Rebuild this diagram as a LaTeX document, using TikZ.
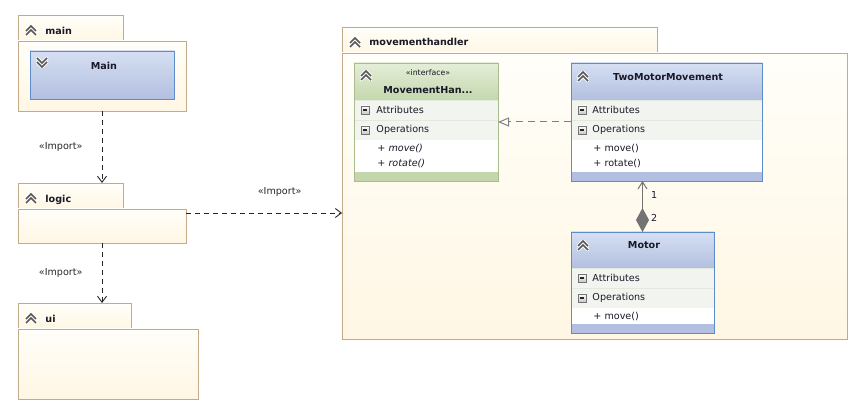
\documentclass[tikz,border=0pt]{standalone}
\usepackage{fontspec}
\setmainfont{DejaVu Sans}
\usetikzlibrary{arrows.meta}

\newcommand\umlfont{\fontsize{9.6}{11}\selectfont}

\definecolor{pkgline}{RGB}{196,170,136}
\definecolor{pkgtop}{RGB}{255,254,249}
\definecolor{pkgbot}{RGB}{255,247,228}
\definecolor{clsline}{RGB}{92,140,204}
\definecolor{clstop}{RGB}{214,223,242}
\definecolor{clsbot}{RGB}{178,191,224}
\definecolor{ifcline}{RGB}{168,188,142}
\definecolor{ifctop}{RGB}{228,238,216}
\definecolor{ifcbot}{RGB}{196,215,172}
\definecolor{rowfill}{RGB}{242,245,239}
\definecolor{rowline}{RGB}{226,234,224}
\definecolor{iconfg}{RGB}{88,88,88}
\definecolor{txt}{RGB}{25,25,40}
\definecolor{relgray}{RGB}{128,128,128}

\tikzset{
  topleft/.style={anchor=north west, inner sep=0pt, outer sep=0pt},
  pkg/.style={topleft, draw=pkgline, top color=pkgtop, bottom color=pkgbot},
  pkgname/.style={anchor=base west, inner sep=0pt, font=\umlfont\bfseries},
  chead/.style={topleft, top color=clstop, bottom color=clsbot, minimum height=37},
  ihead/.style={topleft, top color=ifctop, bottom color=ifcbot, minimum height=37},
  crow/.style={topleft, fill=rowfill, draw=rowline, line width=0.8pt, minimum height=20},
  citems/.style={topleft, fill=white, minimum height=#1},
  cfoot/.style={topleft, fill=clsbot, minimum height=9},
  ifoot/.style={topleft, fill=ifcbot, minimum height=9},
  clsframe/.style={topleft, draw=#1, line width=0.95pt},
  ctitle/.style={font=\umlfont\bfseries, inner sep=0pt},
  ctext/.style={anchor=west, inner sep=0pt},
  citalic/.style={ctext, font=\umlfont\itshape},
  stereo/.style={font=\fontsize{7.8}{9}\selectfont, inner sep=0pt},
  import/.style={black!85, line width=0.9pt, dash pattern=on 5pt off 4pt,
    -{Straight Barb[length=6pt, width=9pt]}},
  implabel/.style={text=black!85, inner sep=1pt},
  pics/upchev/.style={code={
    \foreach \d in {0,4}
      \draw[white, line width=3.2pt, line cap=round, line join=round] (-5,\d+1) -- (0,\d-4) -- (5,\d+1);
    \foreach \d in {0,4}
      \draw[iconfg, line width=1.6pt, line join=miter] (-5,\d+1) -- (0,\d-4) -- (5,\d+1);
  }},
  pics/downchev/.style={code={
    \foreach \d in {0,-4}
      \draw[white, line width=3.2pt, line cap=round, line join=round] (-5,\d-1) -- (0,\d+4) -- (5,\d-1);
    \foreach \d in {0,-4}
      \draw[iconfg, line width=1.6pt, line join=miter] (-5,\d-1) -- (0,\d+4) -- (5,\d-1);
  }},
  pics/minusbox/.style={code={
    \draw[black!55, top color=white, bottom color=black!22, line width=0.8pt] (-4,-4) rectangle (4,4);
    \draw[black!85, line width=1.2pt] (-2.2,0) -- (2.2,0);
  }}
}

\begin{document}
\begin{tikzpicture}[x=1pt, y=-1pt, font=\umlfont, text=txt, line width=0.9pt]
  \useasboundingbox (0,0) rectangle (863,414);

  % main
  \node[pkg, minimum width=105, minimum height=26] (maintab) at (18,15) {};
  \node[pkg, minimum width=168, minimum height=70] (main) at (18,41) {};
  \pic at (31,30) {upchev};
  \node[pkgname] (mainname) at (45,35) {main};
  \node[topleft, draw=clsline, line width=0.95pt, top color=clstop, bottom color=clsbot,
    minimum width=144, minimum height=48] (maincls) at (30,51) {};
  \pic at (42,63) {downchev};
  \node[ctitle] (maintitle) at (104,66) {Main};

  % logic
  \node[pkg, minimum width=105, minimum height=26] (logictab) at (18,183) {};
  \node[pkg, minimum width=168, minimum height=34] (logic) at (18,209) {};
  \pic at (31,198) {upchev};
  \node[pkgname] (logicname) at (45,203) {logic};

  % ui
  \node[pkg, minimum width=113, minimum height=26] (uitab) at (18,303) {};
  \node[pkg, minimum width=180, minimum height=70] (ui) at (18,329) {};
  \pic at (31,318) {upchev};
  \node[pkgname] (uiname) at (45,323) {ui};

  % movementhandler
  \node[pkg, minimum width=315, minimum height=26] (mhtab) at (342,27) {};
  \node[pkg, minimum width=505, minimum height=286] (mh) at (342,53) {};
  \pic at (355,42) {upchev};
  \node[pkgname] (mhname) at (369,46) {movementhandler};

  % interface
  \node[ihead, minimum width=144] (ifchead) at (354,63) {};
  \node[crow, minimum width=144] (ifcattr) at (354,100) {};
  \node[crow, minimum width=144] (ifcops) at (354,120) {};
  \node[citems=32, minimum width=144] (ifcitems) at (354,140) {};
  \node[ifoot, minimum width=144] (ifcfoot) at (354,172) {};
  \node[clsframe=ifcline, minimum width=144, minimum height=118] (iface) at (354,63) {};
  \pic at (366,75) {upchev};
  \node[stereo] (ifcstereo) at (428,73) {«interface»};
  \node[ctitle] (ifctitle) at (428,90) {MovementHan...};
  \pic at (365,110) {minusbox};
  \node[ctext] (ifcattrtxt) at (376,110) {Attributes};
  \pic at (365,130) {minusbox};
  \node[ctext] (ifcopstxt) at (376,130) {Operations};
  \node[citalic] (ifcmove) at (377,148) {+ move()};
  \node[citalic] (ifcrotate) at (377,163) {+ rotate()};

  % TwoMotorMovement
  \node[chead, minimum width=191] (tmmhead) at (571,63) {};
  \node[crow, minimum width=191] (tmmattr) at (571,100) {};
  \node[crow, minimum width=191] (tmmops) at (571,120) {};
  \node[citems=32, minimum width=191] (tmmitems) at (571,140) {};
  \node[cfoot, minimum width=191] (tmmfoot) at (571,172) {};
  \node[clsframe=clsline, minimum width=191, minimum height=118] (tmm) at (571,63) {};
  \pic at (583,76) {upchev};
  \node[ctitle] (tmmtitle) at (668,77) {TwoMotorMovement};
  \pic at (582,110) {minusbox};
  \node[ctext] (tmmattrtxt) at (592,110) {Attributes};
  \pic at (582,130) {minusbox};
  \node[ctext] (tmmopstxt) at (592,130) {Operations};
  \node[ctext] (tmmmove) at (593,148) {+ move()};
  \node[ctext] (tmmrotate) at (593,163) {+ rotate()};

  % Motor
  \node[chead, minimum width=143, minimum height=36] (motorhead) at (571,232) {};
  \node[crow, minimum width=143] (motorattr) at (571,268) {};
  \node[crow, minimum width=143] (motorops) at (571,288) {};
  \node[citems=16, minimum width=143] (motoritems) at (571,308) {};
  \node[cfoot, minimum width=143] (motorfoot) at (571,324) {};
  \node[clsframe=clsline, minimum width=143, minimum height=101] (motor) at (571,232) {};
  \pic at (583,245) {upchev};
  \node[ctitle] (motortitle) at (644,245) {Motor};
  \pic at (582,278) {minusbox};
  \node[ctext] (motorattrtxt) at (592,278) {Attributes};
  \pic at (582,298) {minusbox};
  \node[ctext] (motoropstxt) at (592,298) {Operations};
  \node[ctext] (motormove) at (593,316) {+ move()};

  % imports
  \draw[import] (main.south) -- (main.south |- logictab.north)
    node[midway, left=18pt, implabel] (imp1) {«Import»};
  \draw[import] (logic.south) -- (logic.south |- uitab.north)
    node[midway, left=18pt, implabel] (imp2) {«Import»};
  \draw[import] ([yshift=-4pt]logic.north east) -- ([yshift=-4pt]logic.north east -| mh.west)
    node[pos=.6, above=15pt, implabel] (imp3) {«Import»};

  % realization and composition
  \draw[relgray, line width=1pt, dash pattern=on 7pt off 5pt,
    -{Triangle[open, length=11pt, width=9pt, fill=white]}] (tmm.west) -- (iface.east);
  \draw[black!55, line width=1pt, {Diamond[length=24pt, width=13pt]}-{Straight Barb[length=7pt, width=9pt]}]
    (motor.north) -- (motor.north |- tmm.south)
    node[pos=.73, anchor=west, xshift=8pt, inner sep=0pt, text=txt] (mult1) {1}
    node[pos=.27, anchor=west, xshift=8pt, inner sep=0pt, text=txt] (mult2) {2};
\end{tikzpicture}
\end{document}
